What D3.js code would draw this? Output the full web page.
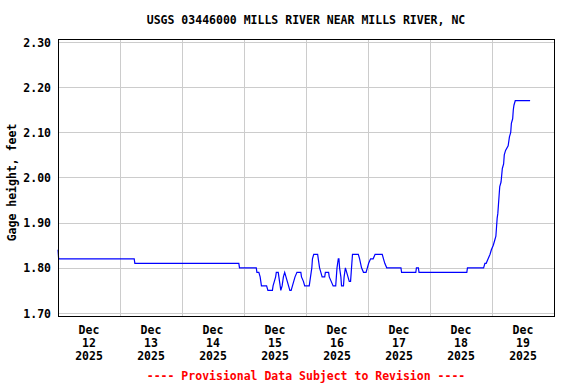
<!DOCTYPE html>
<html>
<head>
<meta charset="utf-8">
<script src="https://cdn.jsdelivr.net/npm/d3@7"></script>
<style>
  body { margin: 0; background: #fff; }
  text { font-family: "DejaVu Sans Mono", "Liberation Mono", monospace; font-weight: bold; }
</style>
</head>
<body>
<div id="chart"></div>
<script>
// gage height readings: hours after Dec 12 2025 00:00, value in feet
const hours = [0, 0.25, 29.5, 29.75, 70, 70.25, 76.75, 77, 77.75, 78.25, 78.5, 78.75, 80.75, 81.25,
  83, 83.25, 83.75, 84.25, 84.5, 85.25, 85.75, 86.25, 86.75, 87.25, 87.75, 88.25, 88.75, 89.25,
  89.75, 90.25, 90.75, 91.25, 91.75, 92.5, 94, 94.25, 95, 95.5, 97.25, 97.75, 98, 98.25, 98.5, 99,
  100.5, 100.75, 101.25, 101.75, 102.25, 103.25, 103.5, 104.75, 105, 105.75, 106.5, 107.5, 107.75,
  108, 108.25, 108.5, 108.75, 109, 109.5, 109.75, 110.5, 110.75, 111.25, 111.75, 112.25, 112.75,
  113.25, 113.5, 113.75, 114, 116.25, 116.75, 117.5, 118.25, 119.25, 119.75, 120.25, 121, 122,
  122.75, 125.5, 126, 126.5, 127.25, 132.75, 133, 138.5, 138.75, 139.5, 139.75, 158.25, 158.5,
  164.75, 165.25, 165.75, 166.5, 167.25, 167.75, 168.5, 169, 169.5, 169.75, 170, 170.25, 170.5,
  170.75, 171, 171.5, 172, 172.5, 172.75, 173.25, 174.25, 174.75, 175.25, 175.5, 176, 176.25,
  176.5, 177, 182.75];
const gage = [1.84, 1.82, 1.82, 1.81, 1.81, 1.80, 1.80, 1.79, 1.79, 1.78, 1.77, 1.76, 1.76, 1.75,
  1.75, 1.76, 1.77, 1.78, 1.79, 1.79, 1.77, 1.75, 1.76, 1.78, 1.79, 1.78, 1.77, 1.76,
  1.75, 1.75, 1.76, 1.77, 1.78, 1.79, 1.79, 1.78, 1.77, 1.76, 1.76, 1.78, 1.79, 1.80, 1.82, 1.83,
  1.83, 1.82, 1.80, 1.79, 1.78, 1.78, 1.79, 1.79, 1.78, 1.77, 1.76, 1.76, 1.78,
  1.80, 1.81, 1.82, 1.82, 1.80, 1.78, 1.76, 1.76, 1.78, 1.80, 1.79, 1.78, 1.77,
  1.77, 1.79, 1.81, 1.83, 1.83, 1.82, 1.80, 1.79, 1.79, 1.80, 1.81, 1.82, 1.82,
  1.83, 1.83, 1.82, 1.81, 1.80, 1.80, 1.79, 1.79, 1.80, 1.80, 1.79, 1.79, 1.80,
  1.80, 1.81, 1.81, 1.82, 1.83, 1.84, 1.85, 1.86, 1.87, 1.89, 1.91, 1.92, 1.94,
  1.96, 1.98, 1.99, 2.02, 2.03, 2.05, 2.06, 2.07, 2.09, 2.10, 2.12, 2.13, 2.15,
  2.16, 2.17, 2.17];

const yTicks = [1.70, 1.80, 1.90, 2.00, 2.10, 2.20, 2.30];
const days = [12, 13, 14, 15, 16, 17, 18, 19];

const title = 'USGS 03446000 MILLS RIVER NEAR MILLS RIVER, NC';
const yTitle = 'Gage height, feet';
const footer = '---- Provisional Data Subject to Revision ----';

const W = 576, H = 384;
const pLeft = 58, pRight = 554, pTop = 39, pBottom = 316;

const start = new Date(Date.UTC(2025, 11, 12));
const end = new Date(Date.UTC(2025, 11, 20));

const svg = d3.select('#chart')
  .append('svg')
    .attr('width', W)
    .attr('height', H);

const x = d3.scaleUtc().domain([start, end]).range([pLeft, pRight]);
const y = d3.scaleLinear().domain([1.70, 2.30]).range([313, 42]);

// grid
svg.append('g')
  .selectAll('line')
  .data(yTicks)
  .join('line')
    .attr('x1', pLeft).attr('x2', pRight)
    .attr('y1', d => Math.round(y(d)) + 0.5).attr('y2', d => Math.round(y(d)) + 0.5)
    .attr('stroke', '#cccccc')
    .attr('shape-rendering', 'crispEdges');

const midnights = days.slice(1).map(d => new Date(Date.UTC(2025, 11, d)));
svg.append('g')
  .selectAll('line')
  .data(midnights)
  .join('line')
    .attr('x1', d => Math.round(x(d)) + 0.5).attr('x2', d => Math.round(x(d)) + 0.5)
    .attr('y1', pTop).attr('y2', pBottom)
    .attr('stroke', '#cccccc')
    .attr('shape-rendering', 'crispEdges');

// data line
const data = hours.map((h, i) => ({date: d3.utcMinute.offset(start, Math.round(h * 60)), value: gage[i]}));
const line = d3.line()
  .x(d => x(d.date))
  .y(d => y(d.value));

svg.append('path')
  .datum(data)
  .attr('d', line)
  .attr('fill', 'none')
  .attr('stroke', '#0000ff')
  .attr('stroke-width', 1.2);

// frame
svg.append('rect')
  .attr('x', pLeft + 0.5)
  .attr('y', pTop + 0.5)
  .attr('width', pRight - pLeft)
  .attr('height', pBottom - pTop)
  .attr('fill', 'none')
  .attr('stroke', '#000')
  .attr('shape-rendering', 'crispEdges');

// y labels
svg.append('g')
  .selectAll('text')
  .data(yTicks)
  .join('text')
    .attr('x', 51)
    .attr('y', d => y(d) + 1)
    .attr('text-anchor', 'end')
    .attr('dominant-baseline', 'middle')
    .attr('font-size', 11.5)
    .text(d => d.toFixed(2));

// x labels, centred on noon of each day
const xl = svg.append('g')
  .selectAll('text')
  .data(days)
  .join('text')
    .attr('text-anchor', 'middle')
    .attr('font-size', 11.5)
    .attr('transform', d => `translate(${x(new Date(Date.UTC(2025, 11, d, 12)))},0)`);
xl.append('tspan').attr('x', 0).attr('y', 334).text('Dec');
xl.append('tspan').attr('x', 0).attr('y', 347).text(d => d);
xl.append('tspan').attr('x', 0).attr('y', 360).text('2025');

// titles
svg.append('text')
  .attr('x', (pLeft + pRight) / 2)
  .attr('y', 24)
  .attr('text-anchor', 'middle')
  .attr('font-size', 11.5)
  .text(title);

svg.append('text')
  .attr('transform', `translate(16,${(pTop + pBottom) / 2 + 5}) rotate(-90)`)
  .attr('text-anchor', 'middle')
  .attr('font-size', 11.5)
  .text(yTitle);

svg.append('text')
  .attr('x', (pLeft + pRight) / 2)
  .attr('y', 380)
  .attr('text-anchor', 'middle')
  .attr('font-size', 11.5)
  .attr('fill', '#ff0000')
  .text(footer);
</script>
</body>
</html>
